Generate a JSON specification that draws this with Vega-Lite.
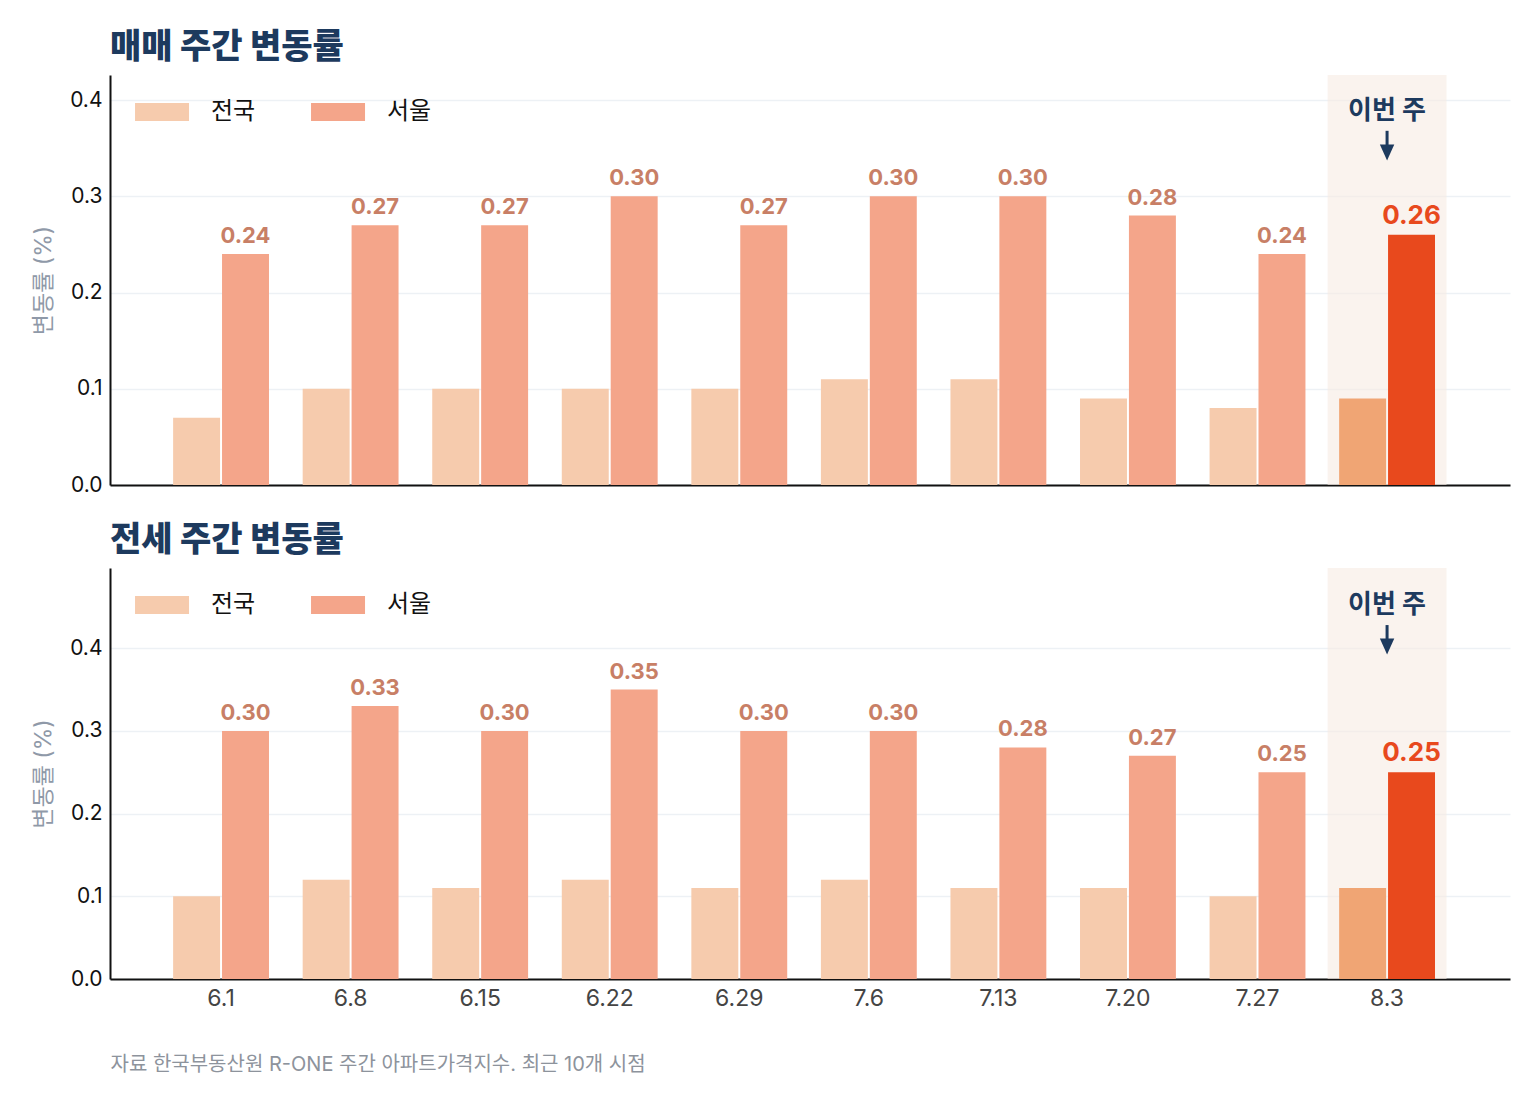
{
  "$schema": "https://vega.github.io/schema/vega-lite/v6.json",
  "background": "white",
  "padding": {"left": 32, "top": 31, "right": 28, "bottom": 10},
  "spacing": 29,
  "config": {
    "font": "Inter, 'Noto Sans CJK KR'",
    "view": {"stroke": null},
    "title": {"fontSize": 34, "fontWeight": 800, "color": "#1d3a5e", "anchor": "start", "frame": "group", "offset": 10},
    "legend": {
      "orient": "top-left", "offset": 25, "direction": "horizontal", "title": null,
      "symbolType": "M-1.33,-1H4.67V1H-1.33Z", "symbolSize": 324, "symbolStrokeWidth": 0, "symbolOpacity": 1,
      "labelFontSize": 24, "labelColor": "#111111", "labelOffset": 52, "columnPadding": 55, "padding": 0
    },
    "axisY": {
      "domain": true, "domainColor": "#111111", "domainWidth": 2, "ticks": false,
      "grid": true, "gridColor": "#edf1f5", "gridWidth": 1.5,
      "labelPadding": 8, "labelFontSize": 21, "labelColor": "#111111",
      "titleColor": "#8f99a8", "titleFontSize": 23, "titleFontWeight": "normal", "titlePadding": 14
    },
    "axisX": {"domainColor": "#111111", "domainWidth": 2, "ticks": false, "grid": false, "labelAngle": 0}
  },
  "resolve": {"scale": {"color": "independent"}, "legend": {"color": "independent"}},
  "datasets": {
    "sale": [
      {"d": "6.1", "s": "전국", "v": 0.07}, {"d": "6.1", "s": "서울", "v": 0.24},
      {"d": "6.8", "s": "전국", "v": 0.10}, {"d": "6.8", "s": "서울", "v": 0.27},
      {"d": "6.15", "s": "전국", "v": 0.10}, {"d": "6.15", "s": "서울", "v": 0.27},
      {"d": "6.22", "s": "전국", "v": 0.10}, {"d": "6.22", "s": "서울", "v": 0.30},
      {"d": "6.29", "s": "전국", "v": 0.10}, {"d": "6.29", "s": "서울", "v": 0.27},
      {"d": "7.6", "s": "전국", "v": 0.11}, {"d": "7.6", "s": "서울", "v": 0.30},
      {"d": "7.13", "s": "전국", "v": 0.11}, {"d": "7.13", "s": "서울", "v": 0.30},
      {"d": "7.20", "s": "전국", "v": 0.09}, {"d": "7.20", "s": "서울", "v": 0.28},
      {"d": "7.27", "s": "전국", "v": 0.08}, {"d": "7.27", "s": "서울", "v": 0.24},
      {"d": "8.3", "s": "전국", "v": 0.09}, {"d": "8.3", "s": "서울", "v": 0.26}
    ],
    "jeonse": [
      {"d": "6.1", "s": "전국", "v": 0.10}, {"d": "6.1", "s": "서울", "v": 0.30},
      {"d": "6.8", "s": "전국", "v": 0.12}, {"d": "6.8", "s": "서울", "v": 0.33},
      {"d": "6.15", "s": "전국", "v": 0.11}, {"d": "6.15", "s": "서울", "v": 0.30},
      {"d": "6.22", "s": "전국", "v": 0.12}, {"d": "6.22", "s": "서울", "v": 0.35},
      {"d": "6.29", "s": "전국", "v": 0.11}, {"d": "6.29", "s": "서울", "v": 0.30},
      {"d": "7.6", "s": "전국", "v": 0.12}, {"d": "7.6", "s": "서울", "v": 0.30},
      {"d": "7.13", "s": "전국", "v": 0.11}, {"d": "7.13", "s": "서울", "v": 0.28},
      {"d": "7.20", "s": "전국", "v": 0.11}, {"d": "7.20", "s": "서울", "v": 0.27},
      {"d": "7.27", "s": "전국", "v": 0.10}, {"d": "7.27", "s": "서울", "v": 0.25},
      {"d": "8.3", "s": "전국", "v": 0.11}, {"d": "8.3", "s": "서울", "v": 0.25}
    ],
    "thisweek": [{"d": "8.3"}]
  },
  "vconcat": [
    {
      "title": "매매 주간 변동률",
      "width": 1400,
      "height": 410,
      "encoding": {
        "x": {
          "field": "d", "type": "ordinal",
          "scale": {"domain": ["6.1","6.8","6.15","6.22","6.29","7.6","7.13","7.20","7.27","8.3"], "paddingInner": 0.26, "paddingOuter": 0.533, "align": 0.457},
          "axis": {"labels": false, "title": null}
        }
      },
      "layer": [
        {
          "data": {"name": "thisweek"},
          "mark": {"type": "bar", "width": {"band": 1.24}, "color": "#f7ebe3", "opacity": 0.6},
          "encoding": {
            "y": {"datum": 0.426, "type": "quantitative", "scale": {"domain": [0, 0.426], "nice": false}},
            "y2": {"datum": 0}
          }
        },
        {
          "data": {"name": "sale"},
          "mark": {"type": "bar"},
          "encoding": {
            "xOffset": {"field": "s", "type": "nominal", "scale": {"domain": ["전국", "서울"], "paddingInner": 0.04, "paddingOuter": 0}},
            "y": {
              "field": "v", "type": "quantitative",
              "scale": {"domain": [0, 0.426], "nice": false},
              "axis": {"values": [0, 0.1, 0.2, 0.3, 0.4], "format": ".1f", "title": "변동률 (%)"}
            },
            "color": {
              "field": "s", "type": "nominal",
              "scale": {"domain": ["전국", "서울"], "range": ["#f6cbad", "#f4a58a"]},
              "condition": [
                {"test": "datum.d === '8.3' && datum.s === '전국'", "value": "#f0a574"},
                {"test": "datum.d === '8.3' && datum.s === '서울'", "value": "#e8491d"}
              ]
            }
          }
        },
        {
          "data": {"name": "sale"},
          "transform": [{"filter": "datum.s === '서울'"}],
          "mark": {"type": "text", "baseline": "bottom", "dy": -6, "fontWeight": "bold"},
          "encoding": {
            "xOffset": {"field": "s", "type": "nominal", "scale": {"domain": ["전국", "서울"], "paddingInner": 0.04, "paddingOuter": 0}},
            "y": {"field": "v", "type": "quantitative"},
            "text": {"field": "v", "type": "quantitative", "format": ".2f"},
            "color": {"condition": {"test": "datum.d === '8.3'", "value": "#e8491d"}, "value": "#c87f66"},
            "size": {"condition": {"test": "datum.d === '8.3'", "value": 26}, "value": 22}
          }
        },
        {
          "data": {"name": "thisweek"},
          "mark": {"type": "text", "fontSize": 26, "fontWeight": "bold", "color": "#1d3a5e", "baseline": "middle"},
          "encoding": {"y": {"datum": 0.3885, "type": "quantitative"}, "text": {"value": "이번 주"}}
        },
        {
          "data": {"name": "thisweek"},
          "mark": {"type": "rule", "strokeWidth": 3, "color": "#1d3a5e"},
          "encoding": {"y": {"datum": 0.368, "type": "quantitative"}, "y2": {"datum": 0.350}}
        },
        {
          "data": {"name": "thisweek"},
          "mark": {"type": "point", "shape": "M-0.9,-1L0.9,-1L0,1Z", "size": 256, "filled": true, "opacity": 1, "color": "#1d3a5e"},
          "encoding": {"y": {"datum": 0.3455, "type": "quantitative"}}
        }
      ]
    },
    {
      "title": "전세 주간 변동률",
      "width": 1400,
      "height": 411,
      "encoding": {
        "x": {
          "field": "d", "type": "ordinal",
          "scale": {"domain": ["6.1","6.8","6.15","6.22","6.29","7.6","7.13","7.20","7.27","8.3"], "paddingInner": 0.26, "paddingOuter": 0.533, "align": 0.457},
          "axis": {
            "labelFontSize": 23, "labelColor": "#444444", "labelPadding": 8,
            "title": "자료 한국부동산원 R-ONE 주간 아파트가격지수. 최근 10개 시점",
            "titleAnchor": "start", "titleAlign": "left", "titleFontSize": 20, "titleFontWeight": "normal",
            "titleColor": "#8d939c", "titlePadding": 44
          }
        }
      },
      "layer": [
        {
          "data": {"name": "thisweek"},
          "mark": {"type": "bar", "width": {"band": 1.24}, "color": "#f7ebe3", "opacity": 0.6},
          "encoding": {
            "y": {"datum": 0.497, "type": "quantitative", "scale": {"domain": [0, 0.497], "nice": false}},
            "y2": {"datum": 0}
          }
        },
        {
          "data": {"name": "jeonse"},
          "mark": {"type": "bar"},
          "encoding": {
            "xOffset": {"field": "s", "type": "nominal", "scale": {"domain": ["전국", "서울"], "paddingInner": 0.04, "paddingOuter": 0}},
            "y": {
              "field": "v", "type": "quantitative",
              "scale": {"domain": [0, 0.497], "nice": false},
              "axis": {"values": [0, 0.1, 0.2, 0.3, 0.4], "format": ".1f", "title": "변동률 (%)"}
            },
            "color": {
              "field": "s", "type": "nominal",
              "scale": {"domain": ["전국", "서울"], "range": ["#f6cbad", "#f4a58a"]},
              "condition": [
                {"test": "datum.d === '8.3' && datum.s === '전국'", "value": "#f0a574"},
                {"test": "datum.d === '8.3' && datum.s === '서울'", "value": "#e8491d"}
              ]
            }
          }
        },
        {
          "data": {"name": "jeonse"},
          "transform": [{"filter": "datum.s === '서울'"}],
          "mark": {"type": "text", "baseline": "bottom", "dy": -6, "fontWeight": "bold"},
          "encoding": {
            "xOffset": {"field": "s", "type": "nominal", "scale": {"domain": ["전국", "서울"], "paddingInner": 0.04, "paddingOuter": 0}},
            "y": {"field": "v", "type": "quantitative"},
            "text": {"field": "v", "type": "quantitative", "format": ".2f"},
            "color": {"condition": {"test": "datum.d === '8.3'", "value": "#e8491d"}, "value": "#c87f66"},
            "size": {"condition": {"test": "datum.d === '8.3'", "value": 26}, "value": 22}
          }
        },
        {
          "data": {"name": "thisweek"},
          "mark": {"type": "text", "fontSize": 26, "fontWeight": "bold", "color": "#1d3a5e", "baseline": "middle"},
          "encoding": {"y": {"datum": 0.452, "type": "quantitative"}, "text": {"value": "이번 주"}}
        },
        {
          "data": {"name": "thisweek"},
          "mark": {"type": "rule", "strokeWidth": 3, "color": "#1d3a5e"},
          "encoding": {"y": {"datum": 0.428, "type": "quantitative"}, "y2": {"datum": 0.407}}
        },
        {
          "data": {"name": "thisweek"},
          "mark": {"type": "point", "shape": "M-0.9,-1L0.9,-1L0,1Z", "size": 256, "filled": true, "opacity": 1, "color": "#1d3a5e"},
          "encoding": {"y": {"datum": 0.4022, "type": "quantitative"}}
        }
      ]
    }
  ]
}
